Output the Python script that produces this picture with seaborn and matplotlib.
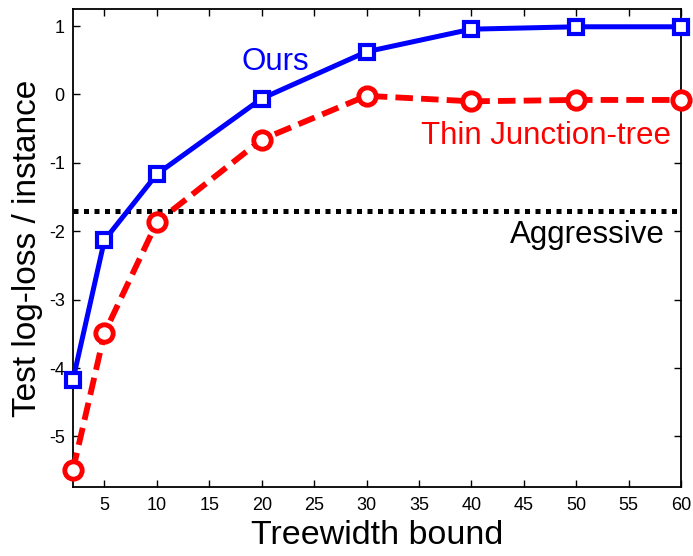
import pandas as pd
import matplotlib
matplotlib.use("Agg")
import matplotlib.pyplot as plt
import seaborn as sns

# values
treewidth = [2, 5, 10, 20, 30, 40, 50, 60]
ours = [-4.17, -2.13, -1.165, -0.06, 0.625, 0.955, 0.99, 0.99]
thin_jt = [-5.49, -3.49, -1.87, -0.66, -0.02, -0.10, -0.08, -0.08]
aggressive = -1.70

sns.set_style("ticks")
plt.rcParams['font.family'] = ['Liberation Sans', 'DejaVu Sans']
plt.rcParams['axes.unicode_minus'] = False
for key in ['text.color', 'axes.labelcolor', 'xtick.color', 'ytick.color',
            'axes.edgecolor']:
    plt.rcParams[key] = 'black'

df = pd.DataFrame({'treewidth': treewidth, 'ours': ours, 'thin': thin_jt})

fig = plt.figure(figsize=(6.93, 5.56), dpi=100)
ax = fig.add_axes([73 / 693, 1 - 487 / 556, (681 - 73) / 693, (487 - 9) / 556])

ax.axhline(aggressive, color='black', lw=3.6, linestyle=(0, (1, 1.1)), zorder=1)

sns.lineplot(data=df, x='treewidth', y='thin', ax=ax, color='red', lw=4.2,
             linestyle=(0, (3, 1.4)), marker='o', markersize=12.5,
             markerfacecolor='white', markeredgecolor='red', markeredgewidth=3.5,
             clip_on=False, zorder=3)
sns.lineplot(data=df, x='treewidth', y='ours', ax=ax, color='blue', lw=3.6,
             marker='s', markersize=10.5, markerfacecolor='white',
             markeredgecolor='blue', markeredgewidth=3, clip_on=False, zorder=4)

ax.text(21.27, 0.357, 'Ours', color='blue', fontsize=22.5, ha='center',
        va='baseline')
ax.text(59.06, -0.724, 'Thin Junction-tree', color='red', fontsize=22.5,
        ha='right', va='baseline')
ax.text(58.47, -2.17, 'Aggressive', color='black', fontsize=22.5,
        ha='right', va='baseline')

ax.set_xlim(2, 60)
ax.set_ylim(-5.74, 1.25)
ax.set_xticks(range(5, 61, 5))
ax.set_yticks(range(-5, 2))
ax.tick_params(direction='in', top=True, right=True, length=5, width=1,
               labelsize=13)
ax.tick_params(axis='x', pad=7)
ax.tick_params(axis='y', pad=6)
for s in ax.spines.values():
    s.set_linewidth(1.3)

ax.set_xlabel('Treewidth bound', fontsize=24.5, labelpad=4.5)
ax.set_ylabel('Test log-loss / instance', fontsize=24, labelpad=4)

fig.savefig('out.png', dpi=100)
